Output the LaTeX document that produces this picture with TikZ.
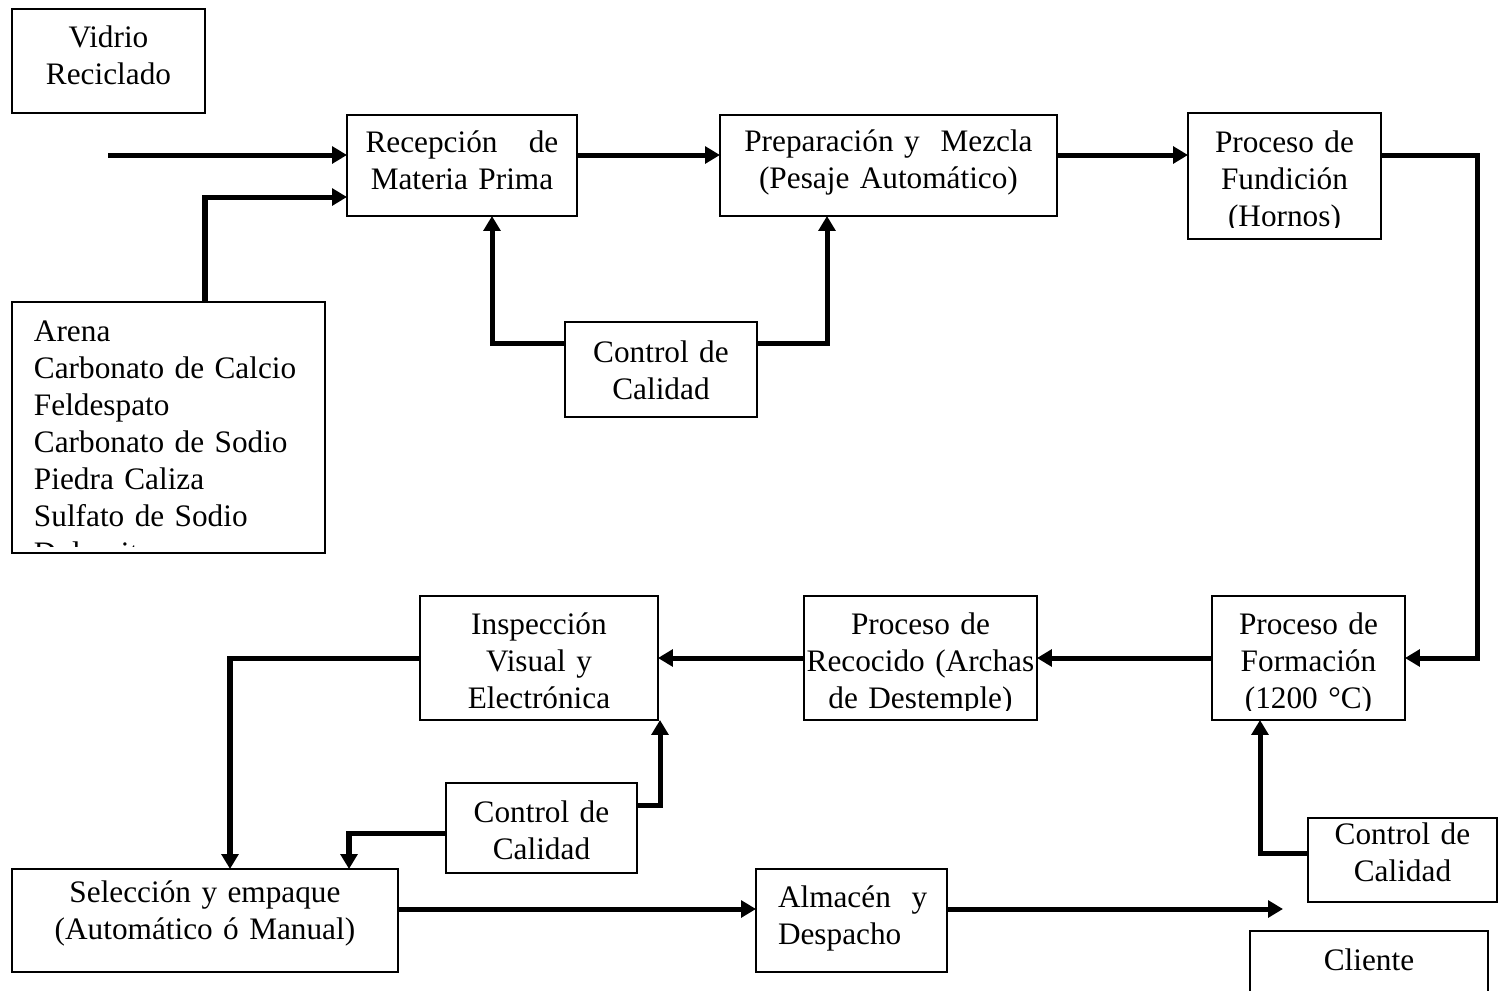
\documentclass[tikz,border=0pt]{standalone}
\usepackage{fontspec}
\setmainfont{Liberation Serif}
\usetikzlibrary{arrows.meta}
\newcommand\diagfont{\fontsize{17.8pt}{21.05pt}\selectfont}
\tikzset{
  box/.style={draw, line width=0.85pt, inner sep=0pt, outer sep=0pt, anchor=north west},
  % #1 text width, #2 alignment, #3 left inset, #4 first-line drop, #5 bottom margin, #6 text
  boxtext/.style n args={6}{path picture={
      \clip ([yshift=#5]path picture bounding box.south west) rectangle (path picture bounding box.north east);
      \node[anchor=north west, inner sep=0pt, draw=none, minimum width=0pt, minimum height=0pt,
            text width=#1, align=#2, font=\diagfont]
        at ([xshift=#3,yshift=#4]path picture bounding box.north west) {\strut #6};}},
  flow/.style={line width=2.85pt, -{Triangle[length=8.5pt,width=9.5pt]}},
}
\begin{document}
\begin{tikzpicture}[x=0.02cm, y=-0.02cm]
\useasboundingbox (0,0) rectangle (1499,991);

% process boxes
\node[box, minimum width=3.86cm, minimum height=2.08cm,
  boxtext={3.86cm}{center}{0cm}{-0.262cm}{0.16cm}{Vidrio\\Reciclado}] (vidrio) at (12,9) {};
\node[box, minimum width=4.6cm, minimum height=2.02cm,
  boxtext={4.6cm}{center}{0cm}{-0.242cm}{0.16cm}{Recepción~~~de\\Materia Prima}] (recep) at (347,115) {};
\node[box, minimum width=6.74cm, minimum height=2.02cm,
  boxtext={6.74cm}{center}{0cm}{-0.222cm}{0.16cm}{Preparación y~~Mezcla\\(Pesaje Automático)}] (prep) at (720,115) {};
\node[box, minimum width=3.86cm, minimum height=2.52cm,
  boxtext={3.86cm}{center}{0cm}{-0.282cm}{0.22cm}{Proceso de\\Fundición\\(Hornos)}] (fund) at (1188,113) {};
\node[box, minimum width=6.26cm, minimum height=5.02cm,
  boxtext={6.26cm}{left}{0.44cm}{-0.282cm}{0.13cm}{Arena\\Carbonato de Calcio\\Feldespato\\Carbonato de Sodio\\Piedra Caliza\\Sulfato de Sodio\\Dolomita}] (mat) at (12,302) {};
\node[box, minimum width=3.84cm, minimum height=1.9cm,
  boxtext={3.84cm}{center}{0cm}{-0.302cm}{0.16cm}{Control de\\Calidad}] (cc1) at (565,322) {};
\node[box, minimum width=4.76cm, minimum height=2.48cm,
  boxtext={4.76cm}{center}{0cm}{-0.262cm}{0.19cm}{Inspección\\Visual y\\Electrónica}] (insp) at (420,596) {};
\node[box, minimum width=4.66cm, minimum height=2.48cm,
  boxtext={4.66cm}{center}{0cm}{-0.262cm}{0.19cm}{Proceso de\\Recocido (Archas\\de Destemple)}] (reco) at (804,596) {};
\node[box, minimum width=3.86cm, minimum height=2.48cm,
  boxtext={3.86cm}{center}{0cm}{-0.262cm}{0.19cm}{Proceso de\\Formación\\(1200 °C)}] (form) at (1212,596) {};
\node[box, minimum width=3.82cm, minimum height=1.8cm,
  boxtext={3.82cm}{center}{0cm}{-0.282cm}{0.16cm}{Control de\\Calidad}] (cc2) at (446,783) {};
\node[box, minimum width=3.78cm, minimum height=1.68cm,
  boxtext={3.78cm}{center}{0cm}{-0.022cm}{0.16cm}{Control de\\Calidad}] (cc3) at (1308,818) {};
\node[box, minimum width=7.72cm, minimum height=2.06cm,
  boxtext={7.72cm}{center}{0cm}{-0.162cm}{0.16cm}{Selección y empaque\\(Automático ó Manual)}] (sel) at (12,869) {};
\node[box, minimum width=3.82cm, minimum height=2.06cm,
  boxtext={3.82cm}{left}{0.44cm}{-0.262cm}{0.16cm}{Almacén~~y\\Despacho}] (alm) at (756,869) {};
\node[box, minimum width=4.76cm, minimum height=1.6cm,
  boxtext={4.76cm}{center}{0cm}{-0.282cm}{0.16cm}{Cliente}] (cli) at (1250,931) {};

% routing points
\coordinate (inV) at (108,155);
\coordinate (row1) at (0,155);
\coordinate (row2) at (0,658);
\coordinate (row3) at (0,909);
\coordinate (jA) at (205,197);
\coordinate (jF) at (1477,155);
\coordinate (jS) at (230,658);
\coordinate (jQ1) at (492,343);
\coordinate (jQ2) at (827,343);
\coordinate (jQ3) at (349,833);
\coordinate (jQ4) at (660,805);
\coordinate (jQ5) at (1260,853);
\coordinate (outC) at (1283,909);

% material flow
\draw[flow] (inV) -- (inV -| recep.west);
\draw[flow] (jA |- mat.north) -- (jA) -- (jA -| recep.west);
\draw[flow] (recep.east |- row1) -- (prep.west |- row1);
\draw[flow] (prep.east |- row1) -- (fund.west |- row1);
\draw[flow] (fund.east |- row1) -- (jF) -- (jF |- row2) -- (form.east |- row2);
\draw[flow] (form.west |- row2) -- (reco.east |- row2);
\draw[flow] (reco.west |- row2) -- (insp.east |- row2);
\draw[flow] (insp.west |- row2) -- (jS) -- (jS |- sel.north);
\draw[flow] (sel.east |- row3) -- (alm.west |- row3);
\draw[flow] (alm.east |- row3) -- (outC);

% quality control feedback
\draw[flow] (cc1.west |- jQ1) -- (jQ1) -- (jQ1 |- recep.south);
\draw[flow] (cc1.east |- jQ2) -- (jQ2) -- (jQ2 |- prep.south);
\draw[flow] (cc2.west |- jQ3) -- (jQ3) -- (jQ3 |- sel.north);
\draw[flow] (cc2.east |- jQ4) -- (jQ4) -- (jQ4 |- insp.south);
\draw[flow] (cc3.west |- jQ5) -- (jQ5) -- (jQ5 |- form.south);
\end{tikzpicture}
\end{document}
